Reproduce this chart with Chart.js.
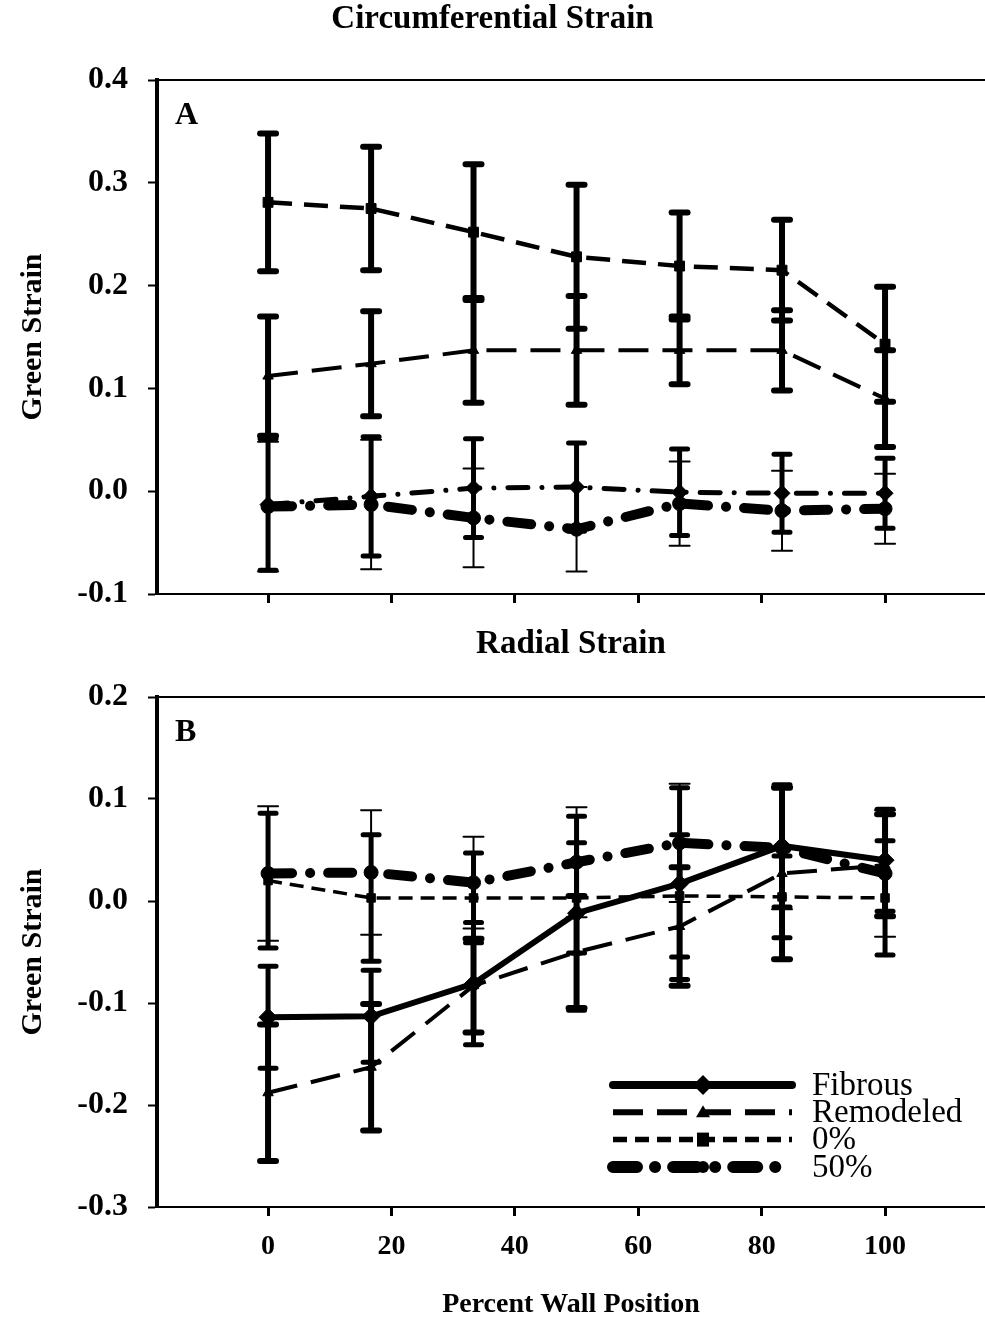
<!DOCTYPE html>
<html>
<head>
<meta charset="utf-8">
<title>Circumferential and Radial Strain</title>
<script src="https://cdn.jsdelivr.net/npm/chart.js@4.4.1/dist/chart.umd.min.js"></script>
<style>
  html, body { margin: 0; padding: 0; background: #fff; overflow: hidden; }
  #wrap { position: relative; width: 985px; height: 1326px; }
  canvas { position: absolute; left: 0; }
  #circ { top: 0; }
  #rad { top: 620px; }
</style>
</head>
<body>
<div id="wrap">
  <canvas id="circ" width="985" height="620"></canvas>
  <canvas id="rad" width="985" height="706"></canvas>
</div>
<script>
// wall positions (percent of wall) and axis ticks
const wallPos = [0, 16.7, 33.3, 50, 66.7, 83.3, 100];
const xTicks = [0, 20, 40, 60, 80, 100];
const yTicksA = [-0.1, 0, 0.1, 0.2, 0.3, 0.4];
const yTicksB = [-0.3, -0.2, -0.1, 0, 0.1, 0.2];
const seriesNames = ['Fibrous', 'Remodeled', '0%', '50%'];

// A: circumferential strain, mean and error
const fibrousA = [-0.013, -0.005, 0.003, 0.004, -0.001, -0.002, -0.002];
const fibrousAErr = [0.064, 0.058, 0.048, 0.043, 0.042, 0.038, 0.034];
const remodeledA = [0.112, 0.124, 0.137, 0.137, 0.137, 0.137, 0.090];
const remodeledAErr = [0.058, 0.051, 0.051, 0.053, 0.033, 0.039, 0.047];
const zeroA = [0.281, 0.275, 0.252, 0.228, 0.219, 0.215, 0.143];
const zeroAErr = [0.067, 0.060, 0.066, 0.070, 0.052, 0.049, 0.056];
const fiftyA = [-0.015, -0.013, -0.026, -0.037, -0.012, -0.019, -0.017];
const fiftyAErr = [0.063, 0.063, 0.048, 0.041, 0.041, 0.039, 0.034];

// B: radial strain, mean and error
const fibrousB = [-0.114, -0.113, -0.081, -0.012, 0.017, 0.054, 0.040];
const fibrousBErr = [0.050, 0.045, 0.060, 0.095, 0.094, 0.060, 0.050];
const remodeledB = [-0.188, -0.163, -0.083, -0.050, -0.025, 0.027, 0.035];
const remodeledBErr = [0.067, 0.062, 0.046, 0.055, 0.058, 0.084, 0.050];
const zeroB = [0.020, 0.003, 0.003, 0.003, 0.005, 0.004, 0.003];
const zeroBErr = [0.066, 0.062, 0.044, 0.054, 0.060, 0.040, 0.056];
const fiftyB = [0.027, 0.028, 0.018, 0.038, 0.057, 0.052, 0.027];
const fiftyBErr = [0.066, 0.061, 0.045, 0.054, 0.058, 0.060, 0.062];

const serif = 'Liberation Serif';

function pts(values) {
  return values.map((v, i) => ({ x: wallPos[i], y: v }));
}

function series(label, values, errs, style) {
  return Object.assign({
    label: label,
    data: pts(values),
    errors: errs,
    borderColor: '#000',
    backgroundColor: '#000',
    pointBackgroundColor: '#000',
    pointBorderColor: '#000',
    pointBorderWidth: 1,
    tension: 0,
    fill: false
  }, style);
}

// line styles
const fibrousSolid = { borderWidth: 6, pointStyle: 'rectRot', pointRadius: 9, barWidth: 5 };
const fibrousDashDot = { borderWidth: 5, borderDash: [20, 14, 0.1, 14], borderCapStyle: 'round', pointStyle: 'rectRot', pointRadius: 8, barWidth: 5 };
const remodeledStyle = { borderWidth: 4, borderDash: [30, 14], pointStyle: 'triangle', pointRadius: 6, barWidth: 6 };
const zeroStyleA = { borderWidth: 4.5, borderDash: [24, 12], pointStyle: 'rect', pointRadius: 7, barWidth: 6 };
const zeroStyleB = { borderWidth: 3.5, borderDash: [14, 8], pointStyle: 'rect', pointRadius: 6, barWidth: 5 };
const fiftyStyle = { borderWidth: 10, borderDash: [24, 18, 0.1, 18], borderCapStyle: 'round', pointStyle: 'circle', pointRadius: 7, barWidth: 2 };

// error bars drawn through the chart's own scales
const errorBars = {
  id: 'errorBars',
  beforeDatasetsDraw(chart) {
    const ctx = chart.ctx;
    const xs = chart.scales.x, ys = chart.scales.y;
    chart.data.datasets.forEach(ds => {
      ctx.save();
      ctx.strokeStyle = '#000';
      ctx.lineCap = 'round';
      const half = ds.barWidth > 3 ? 8 : 10;
      ds.errors.forEach((e, i) => {
        const px = xs.getPixelForValue(ds.data[i].x);
        const hi = ys.getPixelForValue(ds.data[i].y + e);
        const lo = ys.getPixelForValue(ds.data[i].y - e);
        ctx.lineWidth = ds.barWidth;
        ctx.beginPath();
        ctx.moveTo(px, hi);
        ctx.lineTo(px, lo);
        ctx.moveTo(px - half, hi);
        ctx.lineTo(px + half, hi);
        ctx.moveTo(px - half, lo);
        ctx.lineTo(px + half, lo);
        ctx.stroke();
      });
      ctx.restore();
    });
  }
};

// top frame line and panel letter
const frame = {
  id: 'frame',
  afterDraw(chart, args, opts) {
    const { ctx, chartArea } = chart;
    ctx.save();
    ctx.strokeStyle = '#000';
    ctx.lineWidth = 2;
    ctx.beginPath();
    ctx.moveTo(chartArea.left, chartArea.top);
    ctx.lineTo(chartArea.right, chartArea.top);
    ctx.stroke();
    ctx.fillStyle = '#000';
    ctx.font = 'bold 32px ' + serif;
    ctx.textBaseline = 'middle';
    ctx.fillText(opts.letter, chartArea.left + 18, chartArea.top + 36);
    ctx.restore();
  }
};

function marker(ctx, style, x, y) {
  ctx.beginPath();
  if (style === 'rectRot') {
    ctx.moveTo(x, y - 10); ctx.lineTo(x + 10, y); ctx.lineTo(x, y + 10); ctx.lineTo(x - 10, y);
  } else if (style === 'triangle') {
    ctx.moveTo(x, y - 7); ctx.lineTo(x + 7, y + 5); ctx.lineTo(x - 7, y + 5);
  } else if (style === 'rect') {
    ctx.rect(x - 6, y - 7, 12, 14);
  } else {
    ctx.arc(x, y, 6, 0, Math.PI * 2);
  }
  ctx.closePath();
  ctx.fill();
}

// legend inside panel B
const legendBox = {
  id: 'legendBox',
  afterDraw(chart) {
    const { ctx, chartArea } = chart;
    const x0 = chartArea.left + 456, x1 = chartArea.left + 635;
    const mx = chartArea.left + 546;
    ctx.save();
    ctx.strokeStyle = '#000';
    ctx.fillStyle = '#000';
    chart.data.datasets.forEach((ds, i) => {
      const y = chartArea.top + 388 + i * 27.3;
      ctx.lineWidth = ds.borderWidth + 2;
      ctx.lineCap = ds.borderCapStyle || 'butt';
      ctx.setLineDash(ds.borderDash || []);
      if (!ds.borderDash) ctx.lineCap = 'round';
      ctx.beginPath();
      ctx.moveTo(x0, y);
      ctx.lineTo(x1, y);
      ctx.stroke();
      ctx.setLineDash([]);
      marker(ctx, ds.pointStyle, mx, y);
      ctx.font = '33px ' + serif;
      ctx.textBaseline = 'middle';
      ctx.fillText(ds.label, chartArea.left + 655, y + 1);
    });
    ctx.restore();
  }
};

const tickFont = { family: serif, size: 32, weight: 'bold' };

function xScale(showLabels, height) {
  return {
    type: 'linear',
    min: -18,
    max: 116.2,
    afterBuildTicks: s => { s.ticks = xTicks.map(v => ({ value: v })); },
    afterFit: s => { s.height = height; s.paddingLeft = 0; s.paddingRight = 0; },
    ticks: { display: showLabels, color: '#000', font: { family: serif, size: 28, weight: 'bold' }, padding: 14, maxRotation: 0 },
    grid: { drawOnChartArea: false, drawTicks: true, tickLength: 9, tickWidth: 3, tickColor: '#000', color: '#000' },
    border: { display: true, color: '#000', width: 2 },
    title: {
      display: showLabels,
      text: 'Percent Wall Position',
      color: '#000',
      font: { family: serif, size: 28, weight: 'bold' },
      padding: { top: 0, bottom: 4 }
    }
  };
}

function yScale(ticks) {
  return {
    type: 'linear',
    min: ticks[0],
    max: ticks[ticks.length - 1],
    afterBuildTicks: s => { s.ticks = ticks.map(v => ({ value: v })); },
    afterFit: s => { s.width = 157; s.paddingTop = 0; s.paddingBottom = 0; },
    ticks: { color: '#000', font: tickFont, padding: 20, callback: v => Number(v).toFixed(1) },
    grid: { drawOnChartArea: false, drawTicks: true, tickLength: 9, tickWidth: 2, tickColor: '#000', color: '#000' },
    border: { display: true, color: '#000', width: 4 },
    title: {
      display: true,
      text: 'Green Strain',
      color: '#000',
      font: { family: serif, size: 30, weight: 'bold' },
      padding: { top: 15, bottom: 0 }
    }
  };
}

function titleOpts(text, top, bottom, fullSize) {
  return {
    display: true,
    text: text,
    color: '#000',
    fullSize: fullSize,
    font: { family: serif, size: 33, weight: 'bold', lineHeight: 1.2 },
    padding: { top: top, bottom: bottom }
  };
}

// Panel A: circumferential strain
const circChart = new Chart(document.getElementById('circ'), {
  type: 'line',
  data: {
    datasets: [
      series(seriesNames[0], fibrousA, fibrousAErr, fibrousDashDot),
      series(seriesNames[1], remodeledA, remodeledAErr, remodeledStyle),
      series(seriesNames[2], zeroA, zeroAErr, zeroStyleA),
      series(seriesNames[3], fiftyA, fiftyAErr, fiftyStyle)
    ]
  },
  options: {
    responsive: false,
    animation: false,
    devicePixelRatio: 1,
    layout: { padding: 0, autoPadding: false },
    scales: { x: xScale(false, 26), y: yScale(yTicksA) },
    plugins: {
      legend: { display: false },
      tooltip: { enabled: false },
      title: titleOpts('Circumferential Strain', 0, 40.4, true),
      frame: { letter: 'A' }
    }
  },
  plugins: [errorBars, frame]
});

// Panel B: radial strain
const radChart = new Chart(document.getElementById('rad'), {
  type: 'line',
  data: {
    datasets: [
      series(seriesNames[0], fibrousB, fibrousBErr, fibrousSolid),
      series(seriesNames[1], remodeledB, remodeledBErr, remodeledStyle),
      series(seriesNames[2], zeroB, zeroBErr, zeroStyleB),
      series(seriesNames[3], fiftyB, fiftyBErr, fiftyStyle)
    ]
  },
  options: {
    responsive: false,
    animation: false,
    devicePixelRatio: 1,
    layout: { padding: 0, autoPadding: false },
    scales: { x: xScale(true, 119), y: yScale(yTicksB) },
    plugins: {
      legend: { display: false },
      tooltip: { enabled: false },
      title: titleOpts('Radial Strain', 5, 32.4, false),
      frame: { letter: 'B' }
    }
  },
  plugins: [errorBars, frame, legendBox]
});
</script>
</body>
</html>
